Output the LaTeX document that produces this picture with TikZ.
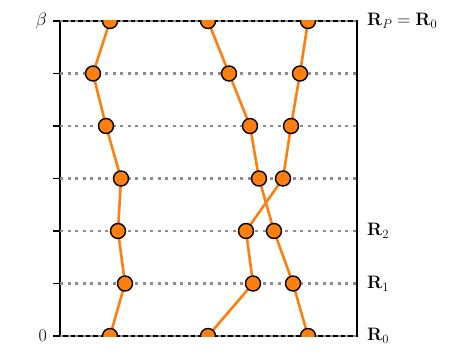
\RequirePackage{fix-cm}
\documentclass[tikz,border=0pt]{standalone}
\usepackage{amsmath}
\usetikzlibrary{backgrounds}

\definecolor{beadorange}{RGB}{255,127,14}

\tikzset{
    bead/.style={circle, draw=black, fill=beadorange, line width=1.4pt, inner sep=0pt, minimum size=15pt},
    link/.style={beadorange, line width=2.6pt},
    slice/.style={gray!90, line width=2.4pt, dash pattern=on 3pt off 4.5pt},
    frame/.style={black, line width=1.4pt},
    lbl/.style={font=\fontsize{18}{21}\selectfont, inner sep=2pt}
}

\begin{document}
\begin{tikzpicture}[x=1pt, y=-1pt]
    \useasboundingbox (0,0) rectangle (449,361);
    % Ecken des Rahmens:
    \coordinate (tl) at (60,21);
    \coordinate (tr) at (357,21);
    \coordinate (bl) at (60,336);
    \coordinate (br) at (357,336);

    % Perlen, am Rahmen abgeschnitten:
    \begin{scope}
    \clip (tl) rectangle (br);
    % linker Pfad
    \node[bead] (c0) at (110,336) {};
    \node[bead] (c1) at (125,283.5) {};
    \node[bead] (c2) at (118,231) {};
    \node[bead] (c3) at (121,178.5) {};
    \node[bead] (c4) at (106,126) {};
    \node[bead] (c5) at (93,73.5) {};
    \node[bead] (c6) at (110,21) {};
    % Pfad von 208 nach 308
    \node[bead] (a0) at (208,336) {};
    \node[bead] (a1) at (253,283.5) {};
    \node[bead] (a2) at (246,231) {};
    \node[bead] (a3) at (283,178.5) {};
    \node[bead] (a4) at (291,126) {};
    \node[bead] (a5) at (300,73.5) {};
    \node[bead] (a6) at (308,21) {};
    % Pfad von 308 nach 208
    \node[bead] (b0) at (308,336) {};
    \node[bead] (b1) at (293,283.5) {};
    \node[bead] (b2) at (274,231) {};
    \node[bead] (b3) at (259,178.5) {};
    \node[bead] (b4) at (250,126) {};
    \node[bead] (b5) at (229,73.5) {};
    \node[bead] (b6) at (208,21) {};
    \end{scope}

    \begin{scope}[on background layer]
    % Rahmen:
    \draw[frame] (tl) -- (tr) -- (br) -- (bl) -- cycle;
    % Zeitscheiben mit Strichen links:
    \foreach \y in {21,73.5,...,336} {
        \draw[slice] (60,\y) -- (357,\y);
        \draw[frame] (53,\y) -- (60,\y);
    }
    % Verbindungen:
    \draw[link] (c0.center) -- (c1.center) -- (c2.center) -- (c3.center) -- (c4.center) -- (c5.center) -- (c6.center);
    \draw[link] (a0.center) -- (a1.center) -- (a2.center) -- (a3.center) -- (a4.center) -- (a5.center) -- (a6.center);
    \draw[link] (b0.center) -- (b1.center) -- (b2.center) -- (b3.center) -- (b4.center) -- (b5.center) -- (b6.center);
    \end{scope}

    % Beschriftung:
    \node[lbl, anchor=east] (beta) at (49,21) {$\beta$};
    \node[lbl, anchor=east] (zero) at (49,336) {$0$};
    \node[lbl, anchor=west] (rp) at (365,21) {$\mathbf{R}_P = \mathbf{R}_0$};
    \node[lbl, anchor=west] (r2) at (365,231) {$\mathbf{R}_2$};
    \node[lbl, anchor=west] (r1) at (365,283.5) {$\mathbf{R}_1$};
    \node[lbl, anchor=west] (r0) at (365,336) {$\mathbf{R}_0$};
\end{tikzpicture}
\end{document}
